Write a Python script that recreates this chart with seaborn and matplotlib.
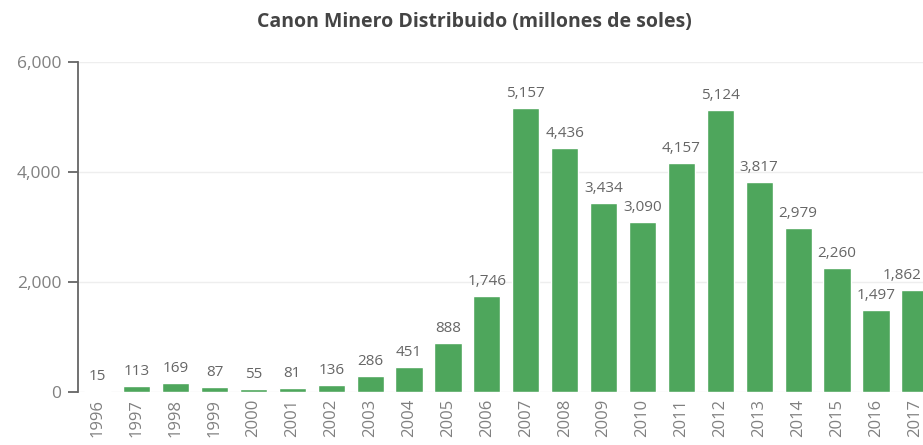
import matplotlib
matplotlib.use("Agg")
import matplotlib.pyplot as plt
import seaborn as sns
import pandas as pd

# Data: canon minero distribuido (millones de soles)
years = [str(y) for y in range(1996, 2018)]
values = [15, 113, 169, 87, 55, 81, 136, 286, 451, 888, 1746, 5157,
          4436, 3434, 3090, 4157, 5124, 3817, 2979, 2260, 1497, 1862]
yticks = [0, 2000, 4000, 6000]

df = pd.DataFrame({"year": years, "value": values})

sns.set_style("white")
plt.rcParams["font.family"] = ["Open Sans", "DejaVu Sans"]

fig = plt.figure(figsize=(9.23, 4.45), dpi=100)
ax = fig.add_axes([78 / 923, 53 / 445, 1 - 78 / 923, 330 / 445])

sns.barplot(data=df, x="year", y="value", color="#4ea65c", width=0.7,
            saturation=1, ax=ax)

# value labels above bars
labels = ax.bar_label(ax.containers[0], labels=[f"{v:,}" for v in values],
                      padding=5, fontsize=11, color="#666666", clip_on=False)
# last bar sits at the cut edge: keep its label inside the figure
labels[-1].set_horizontalalignment("right")
labels[-1].xyann = (5, 5)

ax.set_xlim(-0.51, 21.21)
ax.set_ylim(0, 6000)
ax.set_yticks(yticks)
ax.set_yticklabels([f"{t:,}" for t in yticks])
ax.set_xlabel("")
ax.set_ylabel("")

ax.yaxis.grid(True, color="#eeeeee", linewidth=1)
ax.set_axisbelow(True)
for s in ["top", "right", "bottom"]:
    ax.spines[s].set_visible(False)
ax.spines["left"].set_color("#666666")
ax.spines["left"].set_linewidth(1.3)

ax.tick_params(axis="y", length=7, width=1.3, color="#666666",
               labelsize=12.5, labelcolor="#808080", pad=5, left=True)
ax.tick_params(axis="x", length=0, labelsize=12, labelcolor="#808080",
               rotation=90, pad=5)

fig.text(474 / 923, 1 - 22 / 445, "Canon Minero Distribuido (millones de soles)",
         ha="center", va="center", fontsize=14, fontweight="bold", color="#444444")

fig.savefig("out.png", dpi=100)
